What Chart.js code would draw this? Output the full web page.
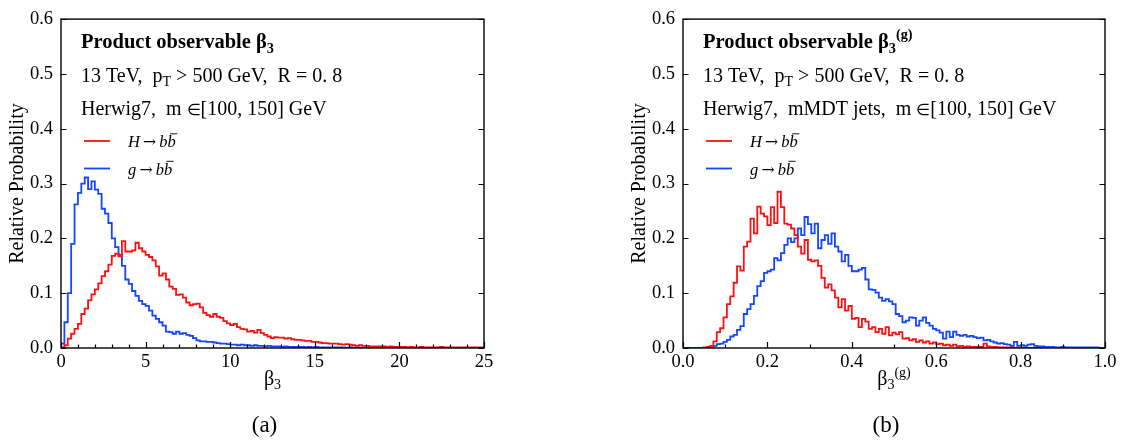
<!DOCTYPE html>
<html>
<head>
<meta charset="utf-8">
<script src="https://cdn.jsdelivr.net/npm/chart.js@4.4.1/dist/chart.umd.min.js"></script>
<style>
  body { margin: 0; background: #fff; }
  #wrap { position: relative; width: 1123px; height: 441px; }
  canvas { position: absolute; top: 0; }
</style>
</head>
<body>
<div id="wrap">
  <canvas id="panelA" width="562" height="441" style="left:0"></canvas>
  <canvas id="panelB" width="561" height="441" style="left:562px"></canvas>
</div>
<script>
// ---- histogram data (relative probability per bin) ----
// (a) beta_3, bins of width 0.2 from 0 to 25
const beta3Bin = 0.2;
const beta3Higgs = [
  0.001, 0.005, 0.017, 0.026, 0.035, 0.044, 0.062, 0.072, 0.087, 0.098,
  0.107, 0.118, 0.131, 0.140, 0.152, 0.168, 0.172, 0.167, 0.195, 0.176,
  0.176, 0.178, 0.192, 0.182, 0.176, 0.170, 0.166, 0.160, 0.149, 0.132,
  0.136, 0.125, 0.112, 0.108, 0.097, 0.098, 0.092, 0.083, 0.078, 0.080,
  0.081, 0.074, 0.064, 0.060, 0.057, 0.062, 0.057, 0.055, 0.049, 0.045,
  0.042, 0.044, 0.038, 0.035, 0.034, 0.030, 0.031, 0.028, 0.033, 0.027,
  0.024, 0.021, 0.018, 0.020, 0.019, 0.019, 0.017, 0.018, 0.016, 0.015,
  0.015, 0.014, 0.013, 0.013, 0.011, 0.011, 0.010, 0.009, 0.009, 0.008,
  0.008, 0.008, 0.007, 0.006, 0.007, 0.006, 0.005, 0.004, 0.005, 0.004,
  0.004, 0.003, 0.003, 0.003, 0.003, 0.003, 0.002, 0.003, 0.002, 0.002,
  0.002, 0.002, 0.001, 0.002, 0.001, 0.001, 0.002, 0.001, 0.001, 0.001,
  0.001, 0.001, 0.002, 0.001, 0.001, 0.001, 0.001, 0.001, 0.001, 0.001,
  0.001, 0.001, 0.001, 0.001, 0.001
];
const beta3Gluon = [
  0.008, 0.047, 0.100, 0.190, 0.262, 0.283, 0.300, 0.311, 0.290, 0.304,
  0.289, 0.281, 0.254, 0.245, 0.228, 0.200, 0.184, 0.170, 0.150, 0.125,
  0.117, 0.104, 0.095, 0.086, 0.080, 0.077, 0.068, 0.059, 0.053, 0.047,
  0.041, 0.030, 0.029, 0.026, 0.030, 0.026, 0.027, 0.024, 0.022, 0.018,
  0.014, 0.012, 0.012, 0.011, 0.011, 0.010, 0.009, 0.008, 0.008, 0.007,
  0.006, 0.006, 0.005, 0.006, 0.005, 0.005, 0.004, 0.005, 0.004, 0.004,
  0.003, 0.004, 0.003, 0.003, 0.003, 0.002, 0.003, 0.002, 0.002, 0.002,
  0.002, 0.002, 0.001, 0.002, 0.001, 0.002, 0.001, 0.001, 0.001, 0.001,
  0.001, 0.001, 0.001, 0.001, 0.000, 0.001, 0.000, 0.001, 0.000, 0.000,
  0, 0, 0, 0, 0, 0, 0, 0, 0, 0,
  0, 0, 0, 0, 0, 0, 0, 0, 0, 0,
  0, 0, 0, 0, 0, 0, 0, 0, 0, 0,
  0, 0, 0, 0, 0
];

// (b) beta_3^(g) on mMDT jets, bins of width 0.008 from 0 to 1
const beta3gBin = 0.008;
const beta3gHiggs = [
  0, 0, 0, 0, 0, 0, 0.001, 0.002, 0.004, 0.012,
  0.029, 0.036, 0.056, 0.080, 0.094, 0.119, 0.149, 0.141, 0.185, 0.194,
  0.236, 0.209, 0.258, 0.245, 0.240, 0.224, 0.257, 0.228, 0.285, 0.257,
  0.227, 0.225, 0.218, 0.206, 0.185, 0.172, 0.197, 0.161, 0.158, 0.160,
  0.150, 0.128, 0.110, 0.116, 0.105, 0.092, 0.074, 0.089, 0.068, 0.077,
  0.053, 0.055, 0.038, 0.053, 0.048, 0.035, 0.038, 0.029, 0.035, 0.026,
  0.038, 0.023, 0.028, 0.025, 0.029, 0.017, 0.018, 0.014, 0.016, 0.011,
  0.014, 0.010, 0.012, 0.008, 0.010, 0.007, 0.008, 0.005, 0.006, 0.004,
  0.006, 0.003, 0.004, 0.002, 0.003, 0.002, 0.002, 0.001, 0.002, 0.008,
  0.003, 0.002, 0.002, 0.001, 0.001, 0.001, 0.001, 0.001, 0, 0,
  0, 0, 0, 0, 0, 0, 0, 0, 0, 0,
  0, 0, 0, 0, 0, 0, 0, 0, 0, 0,
  0, 0, 0, 0, 0
];
const beta3gGluon = [
  0, 0, 0, 0, 0, 0, 0, 0, 0.002, 0.004,
  0.007, 0.008, 0.011, 0.015, 0.021, 0.024, 0.033, 0.040, 0.062, 0.071,
  0.080, 0.095, 0.113, 0.122, 0.137, 0.140, 0.143, 0.164, 0.160, 0.173,
  0.188, 0.200, 0.193, 0.200, 0.218, 0.206, 0.239, 0.226, 0.209, 0.227,
  0.182, 0.197, 0.206, 0.190, 0.209, 0.185, 0.176, 0.158, 0.170, 0.150,
  0.140, 0.140, 0.143, 0.146, 0.125, 0.107, 0.106, 0.101, 0.092, 0.086,
  0.089, 0.085, 0.080, 0.062, 0.058, 0.047, 0.050, 0.056, 0.055, 0.041,
  0.050, 0.056, 0.046, 0.041, 0.035, 0.032, 0.028, 0.017, 0.030, 0.020,
  0.030, 0.024, 0.022, 0.024, 0.021, 0.022, 0.020, 0.018, 0.019, 0.014,
  0.015, 0.012, 0.010, 0.008, 0.009, 0.007, 0.006, 0.004, 0.011, 0.004,
  0.005, 0.004, 0.006, 0.007, 0.004, 0.003, 0.003, 0.002, 0.002, 0.002,
  0.001, 0.001, 0.002, 0.001, 0.001, 0.001, 0.001, 0.001, 0.001, 0.001,
  0.001, 0.001, 0.001, 0, 0
];

const yTicks = [0, 0.1, 0.2, 0.3, 0.4, 0.5, 0.6];

const RED = '#ff1010';
const BLUE = '#1446ff';
const SERIF = '"Liberation Serif", "Times New Roman", serif';

// ---- small rich-text helper: [text, style] runs with sub/superscripts ----
const STYLES = {
  '':   { k: 1, dy: 0 },
  b:    { bold: true, k: 1, dy: 0 },
  i:    { it: true, k: 1, dy: 0 },
  ibar: { it: true, k: 1, dy: 0, bar: true },
  sm:   { k: 0.82, dy: 0 },
  arr:  { k: 0.95, dy: 0, family: '"DejaVu Serif", serif' },
  sub:  { k: 0.7, dy: 0.22 },
  sup:  { k: 0.7, dy: -0.42 },
  bsub: { bold: true, k: 0.7, dy: 0.22 },
  bsup: { bold: true, k: 0.7, dy: -0.45 }
};
function fontFor(st, size) {
  return (st.it ? 'italic ' : '') + (st.bold ? 'bold ' : '') + (size * st.k).toFixed(1) + 'px ' + (st.family || SERIF);
}
function runWidth(ctx, parts, size) {
  let w = 0;
  for (const [t, s] of parts) { ctx.font = fontFor(STYLES[s], size); w += ctx.measureText(t).width; }
  return w;
}
function drawRun(ctx, parts, x, y, size, center) {
  if (center) x -= runWidth(ctx, parts, size) / 2;
  ctx.textAlign = 'left';
  ctx.textBaseline = 'alphabetic';
  ctx.fillStyle = '#000';
  for (const [t, s] of parts) {
    const st = STYLES[s];
    ctx.font = fontFor(st, size);
    const w = ctx.measureText(t).width;
    ctx.fillText(t, x, y + st.dy * size);
    if (st.bar) {
      ctx.beginPath();
      ctx.strokeStyle = '#000';
      ctx.lineWidth = 0.9;
      ctx.moveTo(x + w * 0.3, y - size * 0.8);
      ctx.lineTo(x + w + 1.5, y - size * 0.8);
      ctx.stroke();
    }
    x += w;
  }
}

// inward ticks on left, right and bottom, plus the box round the plot
const framePlugin = {
  id: 'frame',
  afterDatasetsDraw(chart, args, opts) {
    const { ctx, chartArea: a, scales: { x, y } } = chart;
    ctx.save();
    ctx.strokeStyle = '#000';
    ctx.lineWidth = 1.2;
    ctx.beginPath();
    const n = Math.round((x.max - x.min) / opts.minorStep);
    for (let i = 0; i <= n; i++) {
      const v = x.min + i * opts.minorStep;
      const px = Math.round(x.getPixelForValue(v)) + 0.5;
      const major = x.ticks.some(t => Math.abs(t.value - v) < 1e-6);
      ctx.moveTo(px, a.bottom);
      ctx.lineTo(px, a.bottom - (major ? 6 : 3.5));
    }
    for (const t of y.ticks) {
      const py = Math.round(y.getPixelForValue(t.value)) + 0.5;
      ctx.moveTo(a.left, py); ctx.lineTo(a.left + 5.5, py);
      ctx.moveTo(a.right, py); ctx.lineTo(a.right - 5.5, py);
    }
    ctx.stroke();
    ctx.lineWidth = 1.4;
    ctx.strokeRect(a.left, a.top, a.right - a.left, a.bottom - a.top);
    ctx.restore();
  }
};

// text block, legend, axis title and panel caption
const notesPlugin = {
  id: 'notes',
  afterDraw(chart, args, opts) {
    const { ctx, chartArea: a } = chart;
    ctx.save();
    const tx = a.left + 20;
    drawRun(ctx, opts.title, tx, 48, 20.5);
    drawRun(ctx, opts.lines[0], tx, 82, 20);
    drawRun(ctx, opts.lines[1], tx, 115, 20);
    chart.data.datasets.forEach((ds, i) => {
      const ly = 141 + i * 27.5;
      ctx.beginPath();
      ctx.strokeStyle = ds.borderColor;
      ctx.lineWidth = 1.8;
      ctx.moveTo(a.left + 23, ly);
      ctx.lineTo(a.left + 49, ly);
      ctx.stroke();
      drawRun(ctx, opts.legend[i], a.left + 67, ly + 6, 16.5);
    });
    const cx = (a.left + a.right) / 2;
    drawRun(ctx, opts.xTitle, cx, 385, 20, true);
    drawRun(ctx, [[opts.caption, '']], cx - 8, 432, 23, true);
    ctx.restore();
  }
};

function histPoints(values, width) {
  const pts = values.map((v, i) => ({ x: i * width, y: v }));
  pts.push({ x: values.length * width, y: 0 });
  return pts;
}

function makePanel(id, cfg) {
  new Chart(document.getElementById(id), {
    type: 'line',
    data: {
      datasets: [
        { label: 'H → bb̄', data: histPoints(cfg.higgs, cfg.bin), borderColor: RED },
        { label: 'g → bb̄', data: histPoints(cfg.gluon, cfg.bin), borderColor: BLUE }
      ].map(d => Object.assign(d, { borderWidth: 1.8, pointRadius: 0, stepped: 'before', fill: false }))
    },
    plugins: [framePlugin, notesPlugin],
    options: {
      responsive: false,
      animation: false,
      layout: { padding: cfg.padding },
      scales: {
        x: {
          type: 'linear',
          min: cfg.xMin,
          max: cfg.xMax,
          afterFit: s => { s.height = 93; },
          grid: { display: false, drawTicks: false },
          border: { display: false },
          ticks: {
            stepSize: cfg.xStep,
            padding: 3,
            color: '#000',
            font: { family: SERIF, size: 18.5 },
            callback: cfg.xLabel
          }
        },
        y: {
          min: 0,
          max: 0.6,
          afterFit: s => { s.width = 61; },
          afterBuildTicks: s => { s.ticks = yTicks.map(v => ({ value: v })); },
          grid: { display: false, drawTicks: false },
          border: { display: false },
          title: {
            display: true,
            text: 'Relative Probability',
            color: '#000',
            font: { family: SERIF, size: 20 },
            padding: { top: 6, bottom: 0 }
          },
          ticks: {
            padding: 8,
            color: '#000',
            font: { family: SERIF, size: 18.5 },
            callback: v => v.toFixed(1)
          }
        }
      },
      plugins: {
        legend: { display: false },
        tooltip: { enabled: false },
        frame: { minorStep: cfg.minorStep },
        notes: cfg.notes
      }
    }
  });
}

const legendRuns = [
  [['H', 'i'], ['\u2009→\u2009', 'arr'], ['b', 'i'], ['b', 'ibar']],
  [['g', 'i'], ['\u2009→\u2009', 'arr'], ['b', 'i'], ['b', 'ibar']]
];
const ptLine = [['13 TeV,  p', ''], ['T', 'sub'], [' > 500 GeV,  R = 0. 8', '']];
const massRun = [['  m ', ''], ['∈', 'sm'], ['[100, 150] GeV', '']];

makePanel('panelA', {
  higgs: beta3Higgs, gluon: beta3Gluon, bin: beta3Bin,
  xMin: 0, xMax: 25, xStep: 5, minorStep: 1,
  xLabel: v => String(v),
  padding: { left: 0, right: 78, top: 14, bottom: 0 },
  notes: {
    title: [['Product observable β', 'b'], ['3', 'bsub']],
    lines: [ptLine, [['Herwig7,', '']].concat(massRun)],
    legend: legendRuns,
    xTitle: [['β', ''], ['3', 'sub']],
    caption: '(a)'
  }
});

makePanel('panelB', {
  higgs: beta3gHiggs, gluon: beta3gGluon, bin: beta3gBin,
  xMin: 0, xMax: 1, xStep: 0.2, minorStep: 0.1,
  xLabel: v => v.toFixed(1),
  padding: { left: 60, right: 18, top: 14, bottom: 0 },
  notes: {
    title: [['Product observable β', 'b'], ['3', 'bsub'], ['(g)', 'bsup']],
    lines: [ptLine, [['Herwig7,  mMDT jets,', '']].concat(massRun)],
    legend: legendRuns,
    xTitle: [['β', ''], ['3', 'sub'], ['(g)', 'sup']],
    caption: '(b)'
  }
});
</script>
</body>
</html>
